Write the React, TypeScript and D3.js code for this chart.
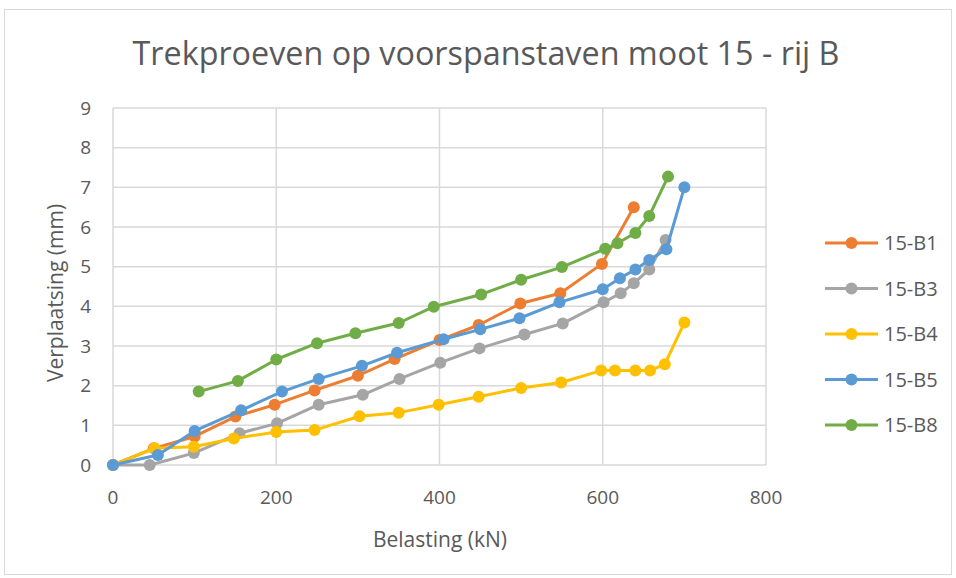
import React from "react";
import * as d3 from "d3";

const title = "Trekproeven op voorspanstaven moot 15 - rij B";
const xTitle = "Belasting (kN)";
const yTitle = "Verplaatsing (mm)";
const xTicks = [0, 200, 400, 600, 800];
const yTicks = [0, 1, 2, 3, 4, 5, 6, 7, 8, 9];

const seriesNames = ["15-B1", "15-B3", "15-B4", "15-B5", "15-B8"];
const seriesColors = ["#ED7D31", "#A5A5A5", "#FFC000", "#5B9BD5", "#70AD47"];

const b1X = [0, 50, 100, 150, 198, 247, 300, 345, 400, 448, 499, 548, 599, 638];
const b1Y = [0, 0.42, 0.72, 1.22, 1.52, 1.88, 2.25, 2.67, 3.15, 3.53, 4.07, 4.33, 5.07, 6.5];

const b3X = [0, 45, 99, 155, 201, 252, 306, 351, 401, 449, 504, 551, 601, 622, 638, 657, 677];
const b3Y = [0, 0, 0.3, 0.8, 1.05, 1.52, 1.77, 2.17, 2.58, 2.94, 3.29, 3.57, 4.1, 4.33, 4.58, 4.93, 5.67];

const b4X = [0, 51, 99, 148, 200, 247, 302, 350, 399, 448, 500, 549, 598, 615, 640, 658, 676, 700];
const b4Y = [0, 0.42, 0.46, 0.67, 0.83, 0.88, 1.23, 1.32, 1.52, 1.72, 1.94, 2.08, 2.38, 2.38, 2.38, 2.38, 2.54, 3.59];

const b5X = [0, 55, 100, 157, 207, 252, 305, 348, 405, 450, 498, 547, 600, 621, 640, 657, 678, 700];
const b5Y = [0, 0.25, 0.86, 1.38, 1.85, 2.17, 2.5, 2.83, 3.17, 3.42, 3.7, 4.1, 4.43, 4.71, 4.93, 5.17, 5.44, 7.0];

const b8X = [105, 153, 200, 250, 297, 350, 393, 451, 500, 550, 603, 618, 640, 657, 680];
const b8Y = [1.85, 2.12, 2.66, 3.07, 3.32, 3.58, 3.99, 4.3, 4.67, 4.99, 5.45, 5.59, 5.85, 6.28, 7.27];

const seriesX = [b1X, b3X, b4X, b5X, b8X];
const seriesY = [b1Y, b3Y, b4Y, b5Y, b8Y];

const W = 956;
const H = 578;
const plot = { left: 113, right: 766, top: 108, bottom: 465 };
const textColor = "#595959";
const font = "'Open Sans', 'Noto Sans', sans-serif";

export default function App() {
  const x = d3.scaleLinear().domain([0, 800]).range([plot.left, plot.right]);
  const y = d3.scaleLinear().domain([0, 9]).range([plot.bottom, plot.top]);
  const line = d3
    .line<[number, number]>()
    .x((d) => x(d[0]))
    .y((d) => y(d[1]));

  const series = seriesNames.map((name, i) => ({
    name,
    color: seriesColors[i],
    pts: seriesX[i].map((v, j) => [v, seriesY[i][j]] as [number, number]),
  }));

  const legendTop = 243;
  const legendStep = 45.5;

  return (
    <svg
      width={W}
      height={H}
      style={{ position: "absolute", left: 0, top: 0, background: "#fff" }}
      fontFamily={font}
    >
      <rect x={0} y={0} width={W} height={H} fill="#fff" />
      <rect x={4.5} y={9.5} width={947} height={565} fill="#fff" stroke="#D9D9D9" strokeWidth={1} />
      <text
        x={486}
        y={65}
        textAnchor="middle"
        fontSize={33}
        fill={textColor}
        textLength={707}
        lengthAdjust="spacingAndGlyphs"
      >
        {title}
      </text>
      {yTicks.map((t) => (
        <line key={"gy" + t} x1={plot.left} x2={plot.right} y1={y(t)} y2={y(t)} stroke="#D9D9D9" strokeWidth={1.5} />
      ))}
      {xTicks.map((t) => (
        <line key={"gx" + t} x1={x(t)} x2={x(t)} y1={plot.top} y2={plot.bottom} stroke="#D9D9D9" strokeWidth={1.5} />
      ))}
      {yTicks.map((t) => (
        <text key={"ty" + t} x={91} y={y(t)} dy="0.35em" textAnchor="end" fontSize={19} fill={textColor}>
          {t}
        </text>
      ))}
      {xTicks.map((t) => (
        <text key={"tx" + t} x={x(t)} y={504} textAnchor="middle" fontSize={19} fill={textColor}>
          {t}
        </text>
      ))}
      <text x={440} y={547} textAnchor="middle" fontSize={21} fill={textColor}>
        {xTitle}
      </text>
      <text
        transform={`translate(63,293) rotate(-90)`}
        textAnchor="middle"
        fontSize={21}
        fill={textColor}
      >
        {yTitle}
      </text>
      {series.map((s) => (
        <g key={s.name}>
          <path d={line(s.pts) || ""} fill="none" stroke={s.color} strokeWidth={3} strokeLinejoin="round" />
          {s.pts.map((p, j) => (
            <circle key={j} cx={x(p[0])} cy={y(p[1])} r={6} fill={s.color} />
          ))}
        </g>
      ))}
      {series.map((s, i) => {
        const ly = legendTop + i * legendStep;
        return (
          <g key={"lg" + s.name}>
            <line x1={825} x2={878} y1={ly} y2={ly} stroke={s.color} strokeWidth={3} />
            <circle cx={851.5} cy={ly} r={6} fill={s.color} />
            <text x={884} y={ly} dy="0.35em" fontSize={20} fill={textColor}>
              {s.name}
            </text>
          </g>
        );
      })}
    </svg>
  );
}
